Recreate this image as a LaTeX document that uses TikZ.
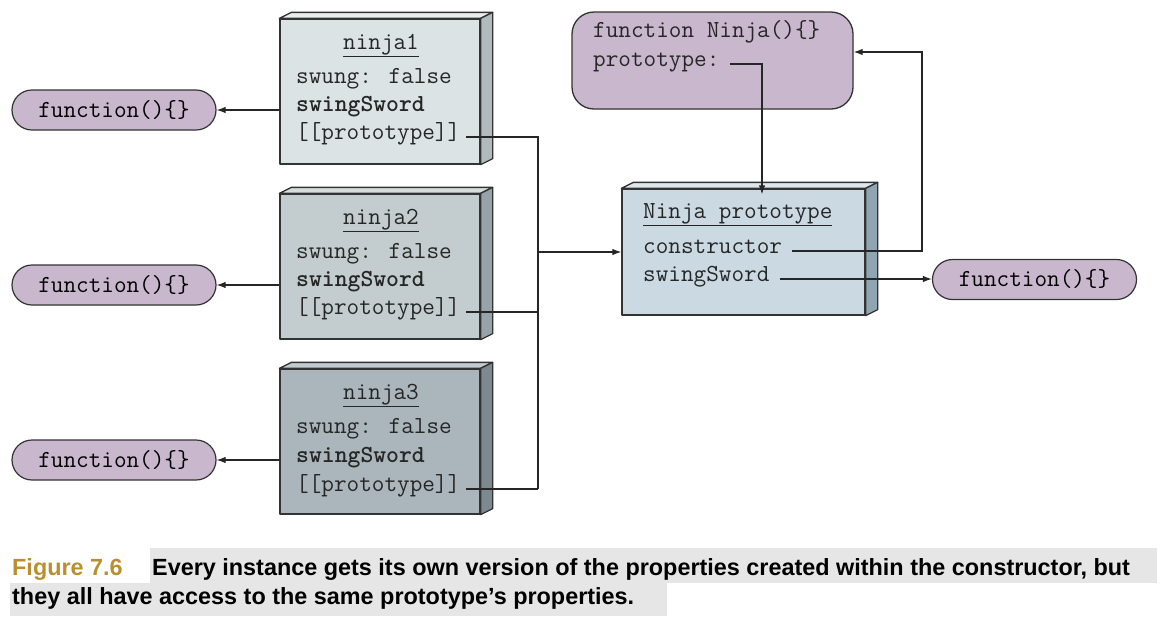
\documentclass[tikz,border=0pt]{standalone}
\usepackage{fontspec}
\setmainfont{Liberation Sans}
\usetikzlibrary{arrows.meta}
\definecolor{lav}{HTML}{C9B8CD}
\definecolor{nAf}{HTML}{DCE3E4}\definecolor{nAt}{HTML}{E9EEEE}\definecolor{nAs}{HTML}{B1BBBE}
\definecolor{nBf}{HTML}{C3CCCE}\definecolor{nBt}{HTML}{D6DDDF}\definecolor{nBs}{HTML}{96A3A8}
\definecolor{nCf}{HTML}{AAB6BB}\definecolor{nCt}{HTML}{C2CBCF}\definecolor{nCs}{HTML}{7C8A90}
\definecolor{pf}{HTML}{CBDAE2}\definecolor{pt}{HTML}{DDE8ED}\definecolor{ps}{HTML}{8FA5B1}
\definecolor{edge}{HTML}{333333}
\definecolor{gold}{HTML}{B8902F}
\definecolor{band}{HTML}{E6E6E6}
\tikzset{
  boxline/.style={draw=edge, line width=1.3pt, line join=round},
  front/.style={boxline, rectangle, minimum width=200pt, minimum height=145pt, inner sep=0pt},
  code/.style={font=\ttfamily\fontsize{24.5}{28}\selectfont, inner sep=0pt, text=black!85},
  pill/.style={draw=edge, line width=1.2pt, fill=lav, rounded corners=20pt, minimum width=204pt, minimum height=40pt, inner sep=0pt, font=\ttfamily\fontsize{24.5}{28}\selectfont},
  conn/.style={draw=black!85, line width=1.2pt},
  arr/.style={conn, -{Latex[length=9pt,width=6.5pt]}},
  captext/.style={font=\bfseries\fontsize{23.4}{28}\selectfont, inner sep=0pt, anchor=base west}
}
\newcommand\slab[3]{%
  \draw[boxline, fill=#2] (#1.north west) -- ++(12,-6) -- ([shift={(12,-6)}]#1.north east) -- (#1.north east) -- cycle;
  \draw[boxline, fill=#3] (#1.north east) -- ++(12,-6) -- ([shift={(12,-6)}]#1.south east) -- (#1.south east) -- cycle;}
\begin{document}
\begin{tikzpicture}[x=1pt,y=-1pt]
\useasboundingbox (0,0) rectangle (1166,622);
% ninja boxes
\node[front, fill=nAf] (n1) at (380,91.5) {};
\slab{n1}{nAt}{nAs}
\node[front, fill=nBf] (n2) at (380,266.5) {};
\slab{n2}{nBt}{nBs}
\node[front, fill=nCf] (n3) at (380,441.5) {};
\slab{n3}{nCt}{nCs}
% ninja texts
\node[code, anchor=mid] (t1) at (381,47) {\underline{ninja1}};
\node[code, anchor=mid west] (s1) at (296,81) {swung: false};
\node[code, anchor=mid west] (w1) at (296,109) {\bfseries swingSword};
\node[code, anchor=mid west] (p1) at (296,137) {[[prototype]]};
\node[code, anchor=mid] (t2) at (381,222) {\underline{ninja2}};
\node[code, anchor=mid west] (s2) at (296,256) {swung: false};
\node[code, anchor=mid west] (w2) at (296,284) {\bfseries swingSword};
\node[code, anchor=mid west] (p2) at (296,312) {[[prototype]]};
\node[code, anchor=mid] (t3) at (381,397) {\underline{ninja3}};
\node[code, anchor=mid west] (s3) at (296,431) {swung: false};
\node[code, anchor=mid west] (w3) at (296,460) {\bfseries swingSword};
\node[code, anchor=mid west] (p3) at (296,489) {[[prototype]]};
% function pills
\node[pill] (f1) at (114,110) {function()\{\}};
\node[pill] (f2) at (114,285) {function()\{\}};
\node[pill] (f3) at (114,460) {function()\{\}};
\node[pill] (f4) at (1034.5,279.5) {function()\{\}};
\draw[arr] (f1.east -| n1.west) -- (f1.east);
\draw[arr] (f2.east -| n2.west) -- (f2.east);
\draw[arr] (f3.east -| n3.west) -- (f3.east);
% prototype box
\node[boxline, rectangle, fill=pf, minimum width=243pt, minimum height=126pt, inner sep=0pt] (pr) at (743.5,252) {};
\slab{pr}{pt}{ps}
\node[code, anchor=mid west] (prt) at (643,216) {\underline{Ninja prototype}};
\node[code, anchor=mid west] (pc) at (643,251) {constructor};
\node[code, anchor=mid west] (pw) at (643,279) {swingSword};
% constructor function box
\node[draw=edge, line width=1.3pt, fill=lav, rounded corners=22pt, minimum width=281pt, minimum height=97pt, inner sep=0pt] (fn) at (712.5,60.5) {};
\node[code, anchor=mid west] (fn1) at (593,35) {function Ninja()\{\}};
\node[code, anchor=mid west] (fn2) at (593,64) {prototype:};
% bus
\coordinate (j1) at (538,137);
\coordinate (j2) at (538,312);
\coordinate (j3) at (538,489);
\coordinate (jm) at (538,252);
\draw[conn] ([xshift=6pt]p1.mid east) -- (j1) -- (j3);
\draw[conn] ([xshift=6pt]p2.mid east) -- (j2);
\draw[conn] ([xshift=6pt]p3.mid east) -- (j3);
\draw[arr] (jm) -- (jm -| pr.west);
% prototype link
\coordinate (c1) at (762,64);
\draw[arr] ([xshift=10pt]fn2.mid east) -- (c1) -- ([yshift=-6pt]c1 |- pr.north);
% constructor link
\coordinate (c2) at (922,251);
\coordinate (c3) at (922,52);
\draw[arr] ([xshift=10pt]pc.mid east) -- (c2) -- (c3) -- (c3 -| fn.east);
\draw[arr] ([xshift=10pt]pw.mid east) -- (pw.mid east -| f4.west);
% caption
\fill[band] (150,548) rectangle (1157,583);
\fill[band] (10,583) rectangle (667,616);
\node[captext, text=gold] (fig) at (12,575) {Figure 7.6};
\node[captext] (c1t) at (152,575) {Every instance gets its own version of the properties created within the constructor, but};
\node[captext] (c2t) at (12,604) {they all have access to the same prototype’s properties.};
\end{tikzpicture}
\end{document}
